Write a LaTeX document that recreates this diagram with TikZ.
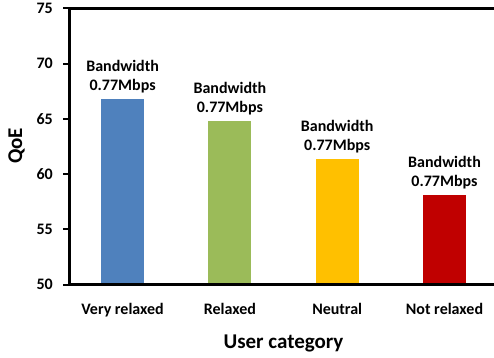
\documentclass[tikz,border=0pt]{standalone}
\usepackage{fontspec}
\setmainfont{Carlito}
\usetikzlibrary{positioning}

\definecolor{vrblue}{HTML}{4F81BD}
\definecolor{rxgreen}{HTML}{9BBB59}
\definecolor{ntyellow}{HTML}{FFC000}
\definecolor{nrred}{HTML}{C00000}

\tikzset{
  bar/.style = {anchor=south, inner sep=0pt, outer sep=0pt, minimum width=43pt},
  bwlabel/.style = {align=center, inner sep=0pt, font=\fontsize{16}{18.5}\selectfont\bfseries},
  catlabel/.style = {inner sep=0pt, font=\fontsize{16}{18.5}\selectfont\bfseries},
  ticklabel/.style = {anchor=east, inner sep=0pt, font=\fontsize{16}{18.5}\selectfont\bfseries},
  axistitle/.style = {inner sep=0pt, font=\fontsize{21}{25}\selectfont\bfseries},
  axisline/.style = {line width=3pt},
  tickline/.style = {line width=2pt}
}

\begin{document}
\begin{tikzpicture}[x=1pt, y=1pt]
        \useasboundingbox (-69, -72.5) rectangle (425, 284.5);

        % bars
        \node (b1) [bar, fill=vrblue,   minimum height=185.5pt] at (53.6, 0)  {};
        \node (b2) [bar, fill=rxgreen,  minimum height=163.5pt] at (160.9, 0) {};
        \node (b3) [bar, fill=ntyellow, minimum height=125.5pt] at (268.2, 0) {};
        \node (b4) [bar, fill=nrred,    minimum height=89.5pt]  at (375.5, 0) {};

        \node (l1) [bwlabel, above = 6pt of b1] {Bandwidth\\0.77Mbps};
        \node (l2) [bwlabel, above = 6pt of b2] {Bandwidth\\0.77Mbps};
        \node (l3) [bwlabel, above = 6pt of b3] {Bandwidth\\0.77Mbps};
        \node (l4) [bwlabel, above = 6pt of b4] {Bandwidth\\0.77Mbps};

        % axes
        \coordinate (origin) at (0, 0);
        \coordinate (ytop)   at (0, 276.5);
        \coordinate (xend)   at (425, 0);
        \coordinate (topend) at (425, 276.5);
        \draw[axisline] (ytop) -- (origin) -- (xend);
        \draw[axisline] (ytop) -- (topend);

        \draw[tickline] (-6, 0)      -- (0, 0);
        \draw[tickline] (-6, 55.25)  -- (0, 55.25);
        \draw[tickline] (-6, 110.5)  -- (0, 110.5);
        \draw[tickline] (-6, 165.75) -- (0, 165.75);
        \draw[tickline] (-6, 221)    -- (0, 221);
        \draw[tickline] (-6, 276.5)  -- (0, 276.5);

        \node (y50) [ticklabel] at (-16, 0)      {50};
        \node (y55) [ticklabel] at (-16, 55.25)  {55};
        \node (y60) [ticklabel] at (-16, 110.5)  {60};
        \node (y65) [ticklabel] at (-16, 165.75) {65};
        \node (y70) [ticklabel] at (-16, 221)    {70};
        \node (y75) [ticklabel] at (-16, 276.5)  {75};

        % categories
        \node (c1) [catlabel, below = 18.5pt of b1] {Very relaxed};
        \node (c2) [catlabel, below = 18.5pt of b2] {Relaxed};
        \node (c3) [catlabel, below = 18.5pt of b3] {Neutral};
        \node (c4) [catlabel, below = 18.5pt of b4] {Not relaxed};

        \node (xtitle) [axistitle, anchor=base] at (214.5, -64) {User category};
        \node (ytitle) [axistitle, rotate=90]   at (-52.5, 138.5) {QoE};
      \end{tikzpicture}
\end{document}
